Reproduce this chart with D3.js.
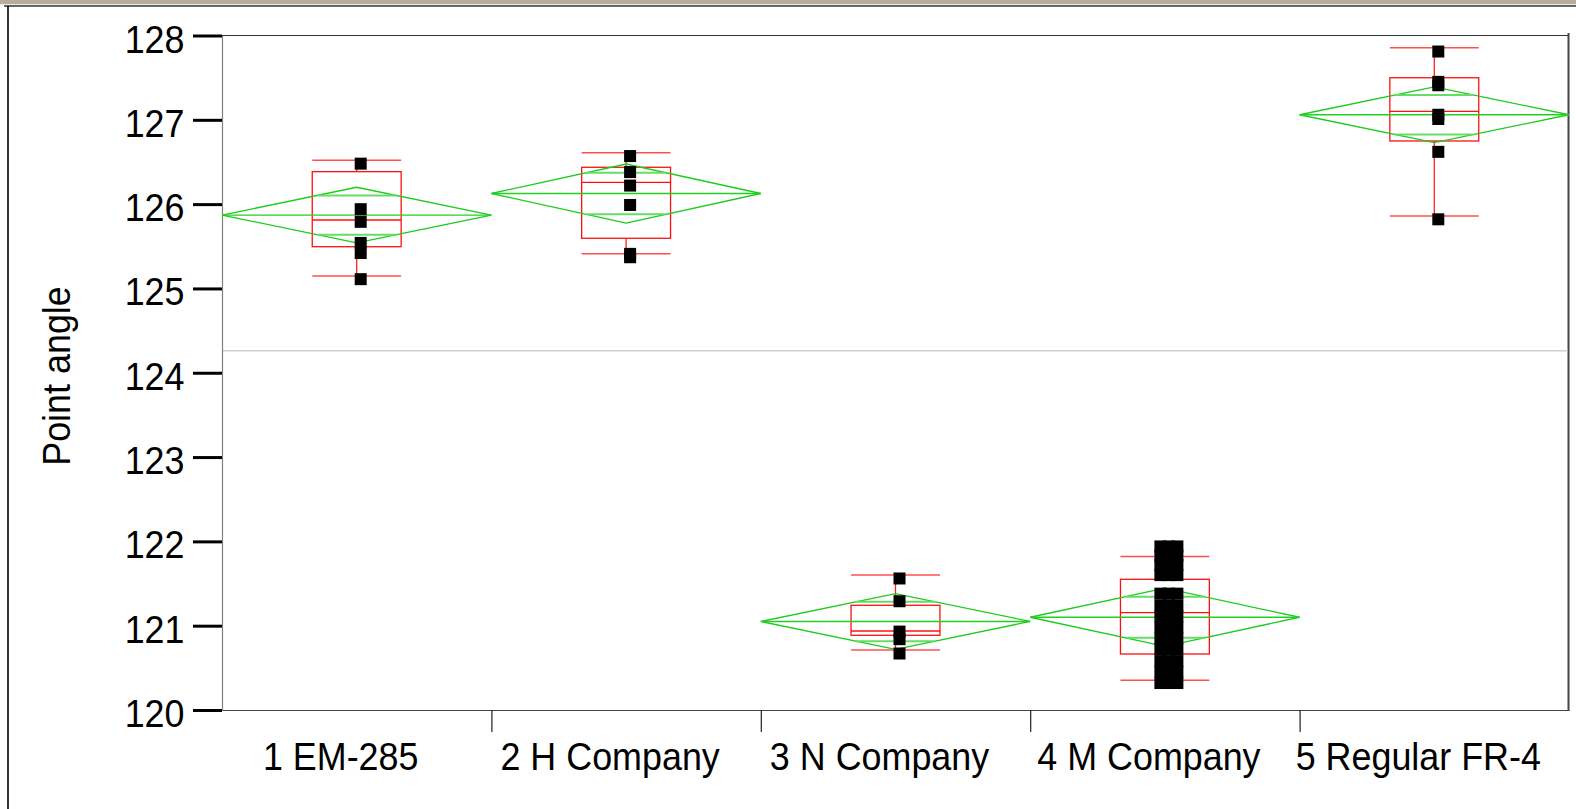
<!DOCTYPE html>
<html>
<head>
<meta charset="utf-8">
<script src="https://cdn.jsdelivr.net/npm/d3@7/dist/d3.min.js"></script>
<style>
  html, body { margin: 0; padding: 0; background: #ffffff; }
  svg { display: block; }
  text { font-family: "Liberation Sans", Arial, Helvetica, sans-serif; fill: #000; }
</style>
</head>
<body>
<svg id="chart" width="1576" height="809"></svg>
<script>
// Point angle by laminate supplier: raw points, quantile boxes, means diamonds
const categories = ["1 EM-285", "2 H Company", "3 N Company", "4 M Company", "5 Regular FR-4"];
const yTicks = [120, 121, 122, 123, 124, 125, 126, 127, 128];

// Observed point angles per supplier
const em285Points = [126.48, 125.94, 125.79, 125.54, 125.42, 125.11];
const hCompanyPoints = [126.57, 126.38, 126.22, 125.99, 125.41, 125.37];
const nCompanyPoints = [121.56, 121.29, 120.93, 120.84, 120.67];
const mCompanyPoints = [
  121.94, 121.94, 121.94, 121.83, 121.83, 121.83, 121.72, 121.72, 121.72, 121.60, 121.60, 121.60,
  121.38, 121.38, 121.38, 121.24, 121.24, 121.24, 121.11, 121.11, 121.11, 120.98, 120.98, 120.98,
  120.85, 120.85, 120.85, 120.72, 120.72, 120.72, 120.58, 120.58, 120.58, 120.45, 120.45, 120.45,
  120.32, 120.32, 120.32
];
const regularPoints = [127.81, 127.45, 127.41, 127.06, 127.01, 126.62, 125.82];
const groupPoints = [em285Points, hCompanyPoints, nCompanyPoints, mCompanyPoints, regularPoints];

// Quantile box summaries
const whiskerHigh = [126.52, 126.61, 121.60, 121.82, 127.855];
const quartile3   = [126.385, 126.437, 121.242, 121.55, 127.499];
const medians     = [125.812, 126.259, 120.937, 121.154, 127.101];
const quartile1   = [125.495, 125.595, 120.886, 120.664, 126.749];
const whiskerLow  = [125.147, 125.412, 120.711, 120.352, 125.859];

// Means and 95% confidence half-widths (diamonds)
const groupMeans = [125.87, 126.126, 121.05, 121.10, 127.06];
const ciHalf     = [0.33, 0.35, 0.33, 0.345, 0.33];
const grandMean = 124.26;

const yLabel = "Point angle";

const svg = d3.select("#chart");
const plotLeft = 222, plotRight = 1569, plotTop = 35.5, plotBottom = 710;

const x = d3.scaleBand().domain(categories).range([plotLeft, plotRight]).padding(0);
const xIdx = d3.scaleLinear().domain([0, categories.length]).range([plotLeft, plotRight]);
const y = d3.scaleLinear().domain([120, 128]).range([plotBottom, plotTop]);

const bw = x.bandwidth();
const boxW = bw * 0.33;
const pointSize = 12;
const pointShift = 4;
const tieSpread = [0, -8.5, 8.5];

// Window chrome: header strip and frame lines
svg.append("rect").attr("x", 0).attr("y", 0).attr("width", 1576).attr("height", 4.3).attr("fill", "#b4ae9b");
svg.append("line").attr("x1", 4).attr("x2", 1576).attr("y1", 6).attr("y2", 6)
  .attr("stroke", "#333").attr("stroke-width", 1.5);
svg.append("line").attr("x1", 8).attr("x2", 8).attr("y1", 6).attr("y2", 809)
  .attr("stroke", "#000").attr("stroke-width", 1.6);

// Plot frame: top and right edges
svg.append("line").attr("x1", plotLeft).attr("x2", plotRight).attr("y1", plotTop).attr("y2", plotTop)
  .attr("stroke", "#333").attr("stroke-width", 1.2);
svg.append("line").attr("x1", plotRight - 0.5).attr("x2", plotRight - 0.5).attr("y1", plotTop - 2.5).attr("y2", plotBottom + 1)
  .attr("stroke", "#444").attr("stroke-width", 2);

// Grand mean reference line
svg.append("line").attr("x1", plotLeft).attr("x2", plotRight - 1.5)
  .attr("y1", y(grandMean)).attr("y2", y(grandMean))
  .attr("stroke", "#d0d0d0").attr("stroke-width", 1.5);

// Y axis
const yAxis = svg.append("g").attr("transform", `translate(${plotLeft},0)`)
  .call(d3.axisLeft(y).tickValues(yTicks).tickFormat(d3.format("d")).tickSize(29).tickSizeOuter(0));
yAxis.select(".domain").attr("stroke", "#808080").attr("stroke-width", 1.2);
yAxis.selectAll(".tick line").attr("stroke", "#000").attr("stroke-width", 3);
yAxis.selectAll(".tick text")
  .attr("x", 0).attr("y", 0).attr("dy", null)
  .attr("text-anchor", "end")
  .attr("transform", "translate(-37.5,16.5) scale(0.92,1)")
  .style("font-size", "39px")
  .style("font-family", "'Liberation Sans', Arial, sans-serif")
  .attr("fill", "#000");

// X axis: boundary ticks between suppliers
const xAxisTicks = svg.append("g").attr("transform", `translate(0,${plotBottom})`)
  .call(d3.axisBottom(xIdx).tickValues(d3.range(1, categories.length)).tickFormat("").tickSize(22).tickSizeOuter(0));
xAxisTicks.select(".domain").attr("stroke", "#444").attr("stroke-width", 1.2);
xAxisTicks.selectAll(".tick line").attr("stroke", "#222").attr("stroke-width", 1.2);

// X axis: supplier labels
const xAxisLabels = svg.append("g").attr("transform", `translate(0,${plotBottom})`)
  .call(d3.axisBottom(x).tickSize(0).tickSizeOuter(0));
xAxisLabels.select(".domain").remove();
xAxisLabels.selectAll(".tick text")
  .attr("x", 0).attr("y", 0).attr("dy", null)
  .attr("text-anchor", "middle")
  .attr("transform", "translate(-16,60) scale(0.92,1)")
  .style("font-size", "39px")
  .style("font-family", "'Liberation Sans', Arial, sans-serif")
  .attr("fill", "#000");

// Y axis title
svg.append("text")
  .attr("transform", "translate(70,376) rotate(-90) scale(0.92,1)")
  .attr("text-anchor", "middle")
  .style("font-size", "39px")
  .text(yLabel);

// Quantile boxes with whiskers
const boxes = svg.append("g");
categories.forEach((c, i) => {
  const cx = x(c) + bw / 2;
  const g = boxes.append("g");
  g.append("line").attr("x1", cx).attr("x2", cx).attr("y1", y(whiskerHigh[i])).attr("y2", y(quartile3[i]))
    .attr("stroke", "#ff2020").attr("stroke-width", 1.3);
  g.append("line").attr("x1", cx).attr("x2", cx).attr("y1", y(quartile1[i])).attr("y2", y(whiskerLow[i]))
    .attr("stroke", "#ff2020").attr("stroke-width", 1.3);
  [whiskerHigh[i], whiskerLow[i]].forEach(v => {
    g.append("line").attr("x1", cx - boxW / 2).attr("x2", cx + boxW / 2)
      .attr("y1", y(v)).attr("y2", y(v))
      .attr("stroke", "#ff5050").attr("stroke-width", 1.5);
  });
  g.append("rect").attr("x", cx - boxW / 2).attr("width", boxW)
    .attr("y", y(quartile3[i])).attr("height", y(quartile1[i]) - y(quartile3[i]))
    .attr("fill", "none").attr("stroke", "#ff1010").attr("stroke-width", 1.3);
  g.append("line").attr("x1", cx - boxW / 2).attr("x2", cx + boxW / 2)
    .attr("y1", y(medians[i])).attr("y2", y(medians[i]))
    .attr("stroke", "#ff1010").attr("stroke-width", 1.3);
});

// Means diamonds with overlap marks
const diamonds = svg.append("g");
categories.forEach((c, i) => {
  const x0 = x(c), x1 = x(c) + bw, cx = x0 + bw / 2;
  const ym = y(groupMeans[i]);
  const hTop = y(groupMeans[i] + ciHalf[i]);
  const hBot = y(groupMeans[i] - ciHalf[i]);
  diamonds.append("polygon")
    .attr("points", [[x0, ym], [cx, hTop], [x1, ym], [cx, hBot]].map(p => p.join(",")).join(" "))
    .attr("fill", "none").attr("stroke", "#1ccc1c").attr("stroke-width", 1.3);
  diamonds.append("line").attr("x1", x0).attr("x2", x1).attr("y1", ym).attr("y2", ym)
    .attr("stroke", "#22d022").attr("stroke-width", 1.4);
  const ov = ciHalf[i] / Math.SQRT2;
  const halfW = (bw / 2) * (1 - 1 / Math.SQRT2);
  [groupMeans[i] + ov, groupMeans[i] - ov].forEach(v => {
    diamonds.append("line").attr("x1", cx - halfW).attr("x2", cx + halfW)
      .attr("y1", y(v)).attr("y2", y(v))
      .attr("stroke", "#66dd66").attr("stroke-width", 2);
  });
});

// Raw observations; tied values are spread sideways
const pts = svg.append("g");
groupPoints.forEach((vals, i) => {
  const cx = x(categories[i]) + bw / 2 + pointShift;
  const seen = new Map();
  vals.forEach(v => {
    const k = seen.get(v) || 0;
    seen.set(v, k + 1);
    const dx = tieSpread[k % tieSpread.length];
    pts.append("rect")
      .attr("x", cx + dx - pointSize / 2).attr("y", y(v) - pointSize / 2)
      .attr("width", pointSize).attr("height", pointSize)
      .attr("fill", "#000");
  });
});
</script>
</body>
</html>
